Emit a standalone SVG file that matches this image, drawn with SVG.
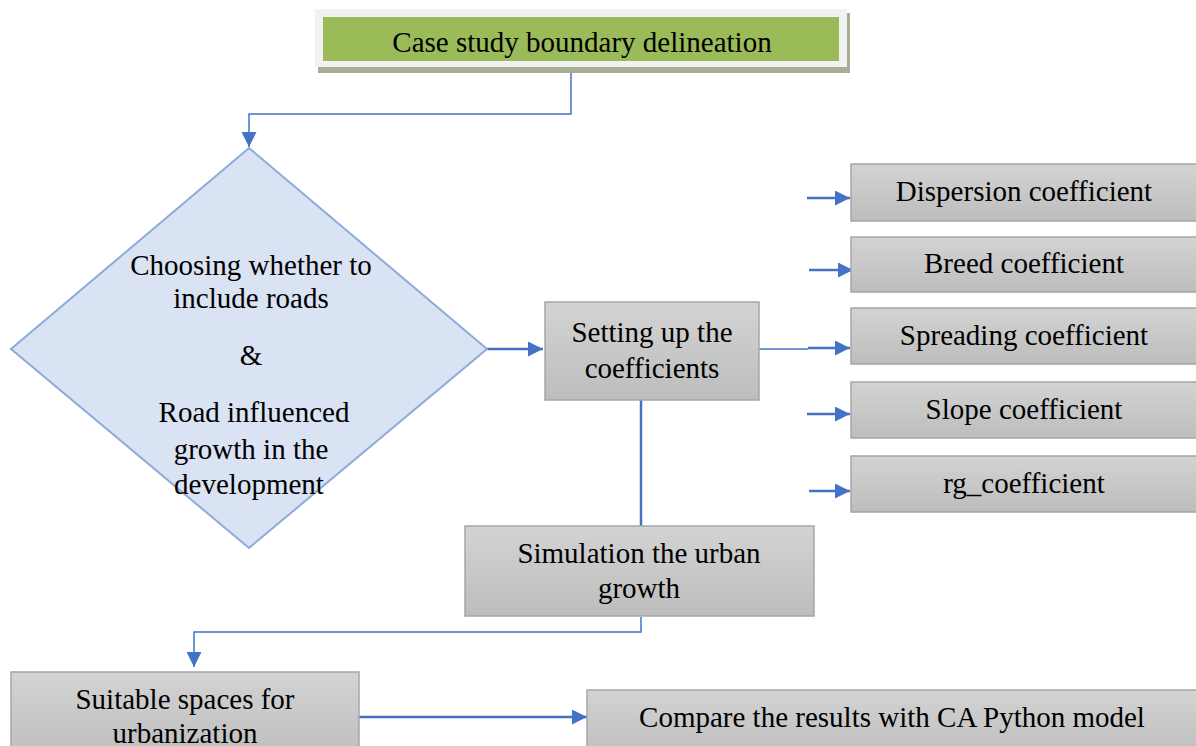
<svg xmlns="http://www.w3.org/2000/svg" width="1196" height="746" viewBox="0 0 1196 746">
<style>
.t{font-family:"Liberation Serif","Times New Roman",serif;font-size:29px;fill:#000;text-anchor:middle}
.box{fill:url(#g);stroke:#a6a6a6;stroke-width:1.5}
.c{fill:none;stroke:#4472c4;stroke-width:1.5}
.a{fill:none;stroke:#4472c4;stroke-width:2.5}
</style>
<defs>
<linearGradient id="g" x1="0" y1="0" x2="0" y2="1">
<stop offset="0" stop-color="#d3d3d3"/>
<stop offset="1" stop-color="#bdbdbd"/>
</linearGradient>
<marker id="ah" viewBox="0 0 10 10" refX="10" refY="5" markerWidth="15" markerHeight="15" markerUnits="userSpaceOnUse" orient="auto">
<path d="M0,0 L10,5 L0,10 Z" fill="#4472c4"/>
</marker>
</defs>
<g id="connectors">
<path class="c" d="M571,67 V114 H249 V147" marker-end="url(#ah)"/>
<path class="a" d="M487,349 H543" marker-end="url(#ah)"/>
<path class="c" d="M759,349 H808"/>
<path class="a" d="M808,348 H850" marker-end="url(#ah)"/>
<path class="a" d="M807,198 H850" marker-end="url(#ah)"/>
<path class="a" d="M809,270 H853" marker-end="url(#ah)"/>
<path class="a" d="M807,414 H850" marker-end="url(#ah)"/>
<path class="a" d="M809,491 H850" marker-end="url(#ah)"/>
<path class="a" d="M641,400 V526"/>
<path class="c" d="M641,617 V632 H194 V667" marker-end="url(#ah)"/>
<path class="a" d="M359,717 H587" marker-end="url(#ah)"/>
</g>
<g id="n-case">
<rect x="318" y="13" width="532" height="60" fill="#a7ae96"/>
<rect x="315" y="9" width="532" height="58" fill="#f2f2f2"/>
<rect x="323" y="17" width="516" height="44" fill="#9bbb59"/>
<text class="t" x="582" y="52">Case study boundary delineation</text>
</g>
<g id="n-choose">
<polygon points="249,148 487,349 249,548 11,349" fill="#dae3f3" stroke="#8eaadb" stroke-width="2"/>
<text class="t" x="251" y="275">Choosing whether to</text>
<text class="t" x="251" y="308">include roads</text>
<text class="t" x="251" y="365">&amp;</text>
<text class="t" x="254" y="422">Road influenced</text>
<text class="t" x="251" y="459">growth in the</text>
<text class="t" x="249" y="494">development</text>
</g>
<g id="n-setting">
<rect class="box" x="545" y="302" width="214" height="98"/>
<text class="t" x="652" y="342">Setting up the</text>
<text class="t" x="652" y="378">coefficients</text>
</g>
<g id="n-dispersion">
<rect class="box" x="851" y="164" width="350" height="57"/>
<text class="t" x="1024" y="201">Dispersion coefficient</text>
</g>
<g id="n-breed">
<rect class="box" x="851" y="237" width="350" height="55"/>
<text class="t" x="1024" y="273">Breed coefficient</text>
</g>
<g id="n-spreading">
<rect class="box" x="851" y="308" width="350" height="56"/>
<text class="t" x="1024" y="345">Spreading coefficient</text>
</g>
<g id="n-slope">
<rect class="box" x="851" y="382" width="350" height="56"/>
<text class="t" x="1024" y="419">Slope coefficient</text>
</g>
<g id="n-rg">
<rect class="box" x="851" y="456" width="350" height="56"/>
<text class="t" x="1024" y="493">rg_coefficient</text>
</g>
<g id="n-sim">
<rect class="box" x="465" y="526" width="349" height="90"/>
<text class="t" x="639" y="563">Simulation the urban</text>
<text class="t" x="639" y="598">growth</text>
</g>
<g id="n-suitable">
<rect class="box" x="11" y="672" width="348" height="90"/>
<text class="t" x="185" y="709">Suitable spaces for</text>
<text class="t" x="185" y="743">urbanization</text>
</g>
<g id="n-compare">
<rect class="box" x="587" y="690" width="620" height="70"/>
<text class="t" x="892" y="727">Compare the results with CA Python model</text>
</g>
</svg>
